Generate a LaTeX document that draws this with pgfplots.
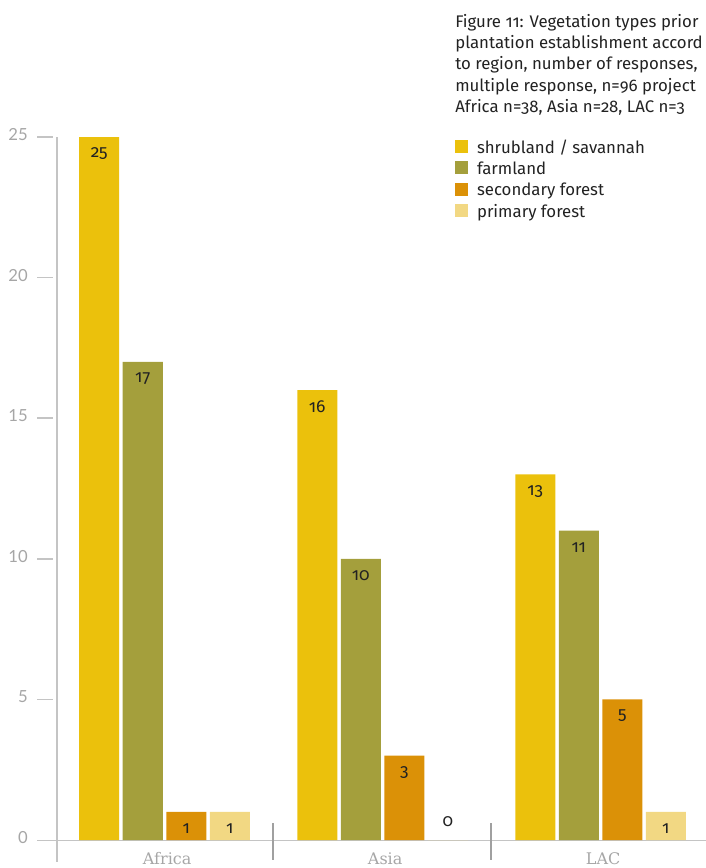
\documentclass[border=0pt]{standalone}
\usepackage{pgfplots}
\pgfplotsset{compat=1.18}
\usepackage{fontspec}
\setmainfont{Fira Sans}
\newfontfamily\fira[Numbers=OldStyle]{Fira Sans}
\newfontfamily\latof{Lato}
\newfontfamily\slab{DejaVu Serif}
\definecolor{shrub}{HTML}{EBC10C}
\definecolor{farm}{HTML}{A49F3C}
\definecolor{second}{HTML}{DB9107}
\definecolor{primaryc}{HTML}{F2D883}
\definecolor{axgray}{HTML}{C4C4C4}
\definecolor{sepgray}{HTML}{A0A0A0}
\definecolor{tickgray}{HTML}{A6A6A6}
\definecolor{txt}{HTML}{222222}
\begin{document}
\begin{tikzpicture}
\useasboundingbox (0,0) rectangle (529.5pt,-651pt);
\begin{scope}[x=0.75pt,y=-0.75pt,line width=1.2pt]
\draw[axgray] (57,137) -- (57,862);
\draw[axgray] (37,840.5) -- (706,840.5);
\foreach \yy in {137,277.6,418.2,558.8,699.4} \draw[axgray] (37,\yy) -- (53,\yy);
\draw[sepgray] (273,823) -- (273,860);
\draw[sepgray] (491,823) -- (491,860);
\end{scope}
\begin{axis}[
  at={(42.75pt,-630pt)}, anchor=south west,
  scale only axis, width=486.75pt, height=527.25pt,
  xmin=-0.4931, xmax=2.4839, ymin=0, ymax=25,
  axis line style={draw=none},
  major tick length=0pt,
  xtick={0,1,2}, xticklabels={Africa,Asia,LAC},
  ytick={0,5,...,25},
  xticklabel style={font=\slab\fontsize{12}{14}\selectfont, text=tickgray, anchor=base, inner sep=0pt, yshift=-18.5pt, xshift=2pt},
  yticklabel style={font=\latof\fontsize{12.5}{15}\selectfont, text=tickgray, anchor=east, inner sep=0pt, xshift=-21.75pt, yshift=1.9pt},
  /pgf/number format/assume math mode=true,
  ybar=2.625pt, bar width=30pt,
  clip=false,
  nodes near coords={\pgfmathprintnumber{\pgfplotspointmeta}},
  visualization depends on={y \as \rawy},
  every node near coord/.append style={font=\fira\fontsize{13}{15}\selectfont, text=txt, anchor=center, yshift={\rawy<0.5 ? 13.5 : -12.5}},
  legend style={at={(0.6133,1)}, anchor=north west, draw=none, fill=none, inner sep=0pt, outer sep=0pt, row sep=0pt, column sep=6.75pt, cells={anchor=base west}, nodes={inner sep=0pt, text height=12pt, text depth=4pt, font=\fira\fontsize{12.6}{16}\selectfont, text=txt}},
  legend image code/.code={\fill[#1] (0pt,0pt) rectangle (9.75pt,9.75pt);},
]
\addplot[fill=shrub, draw=none] coordinates {(0,25) (1,16) (2,13)};
\addplot[fill=farm, draw=none] coordinates {(0,17) (1,10) (2,11)};
\addplot[fill=second, draw=none] coordinates {(0,1) (1,3) (2,5)};
\addplot[fill=primaryc, draw=none] coordinates {(0,1) (1,0) (2,1)};
\legend{shrubland / savannah, farmland, secondary forest, primary forest}
\end{axis}
\begin{scope}[every node/.style={anchor=base west, inner sep=0pt, font=\fira\fontsize{12.6}{16}\selectfont, text=txt}]
\node at (341.25pt,-20.25pt) {Figure 11: Vegetation types prior};
\node at (341.25pt,-36.25pt) {plantation establishment accord};
\node at (341.25pt,-52.25pt) {to region, number of responses,};
\node at (341.25pt,-68.25pt) {multiple response, n=96 project};
\node at (341.25pt,-84.25pt) {Africa n=38, Asia n=28, LAC n=3};
\end{scope}
\end{tikzpicture}
\end{document}
